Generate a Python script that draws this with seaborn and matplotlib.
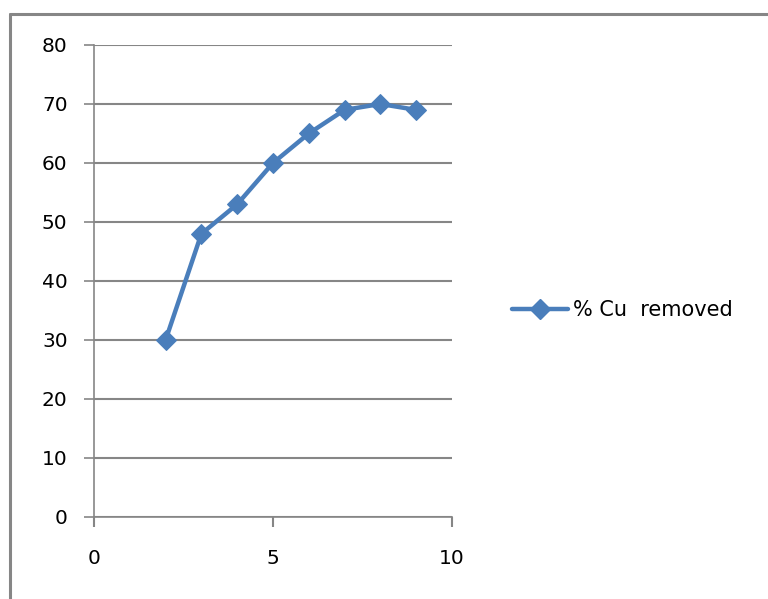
import seaborn as sns
import pandas as pd
from matplotlib import pyplot as plt
from matplotlib.lines import Line2D

# data
dose = [2, 3, 4, 5, 6, 7, 8, 9]
cu_removed = [30, 48, 53, 60, 65, 69, 70, 69]
series_name = '% Cu  removed'
x_ticks = [0, 5, 10]
y_ticks = [0, 10, 20, 30, 40, 50, 60, 70, 80]

df = pd.DataFrame({'x': dose, 'y': cu_removed})

sns.set_style('white')
plt.rcParams['font.family'] = ['DejaVu Sans']

blue = '#4a7ebb'
grey = '#868686'

fig = plt.figure(figsize=(7.68, 5.99), dpi=100)
ax = fig.add_axes([0.1224, 0.1369, 0.4661, 0.788])

sns.lineplot(data=df, x='x', y='y', ax=ax, color=blue, linewidth=3.2,
             marker='D', markersize=10, markeredgecolor=blue, legend=False)

ax.set_xlim(0, 10)
ax.set_ylim(0, 80)
ax.set_xticks(x_ticks)
ax.set_yticks(y_ticks)
ax.set_xlabel('')
ax.set_ylabel('')
ax.yaxis.grid(True, color=grey, linewidth=1.5)
ax.set_axisbelow(True)

for s in ['top', 'right']:
    ax.spines[s].set_visible(False)
for s in ['left', 'bottom']:
    ax.spines[s].set_color(grey)
    ax.spines[s].set_linewidth(1.2)

ax.tick_params(axis='y', which='both', length=7, width=1.2, color=grey,
               labelsize=14.5, pad=12, direction='out', left=True,
               labelcolor='black')
ax.tick_params(axis='x', which='both', length=7, width=1.5, color=grey,
               labelsize=14.5, pad=16, direction='out', bottom=True,
               labelcolor='black')
ax.yaxis.set_ticks_position('left')
ax.xaxis.set_ticks_position('bottom')

# legend to the right of the plot
handle = Line2D([], [], color=blue, linewidth=3.2, marker='D', markersize=10)
leg = fig.legend([handle], [series_name], loc='center left',
                 bbox_to_anchor=(0.642, 0.4825), frameon=False, fontsize=15,
                 handlelength=2.7, handletextpad=0.25)
for t in leg.get_texts():
    t.set_color('black')

# chart border (top and left visible)
fig.add_artist(Line2D([10 / 768, 10 / 768], [0, 1 - 14 / 599],
                      transform=fig.transFigure, color=grey, linewidth=2.2))
fig.add_artist(Line2D([10 / 768, 1], [1 - 14 / 599, 1 - 14 / 599],
                      transform=fig.transFigure, color=grey, linewidth=2.2))

plt.savefig('out.png', dpi=100)
